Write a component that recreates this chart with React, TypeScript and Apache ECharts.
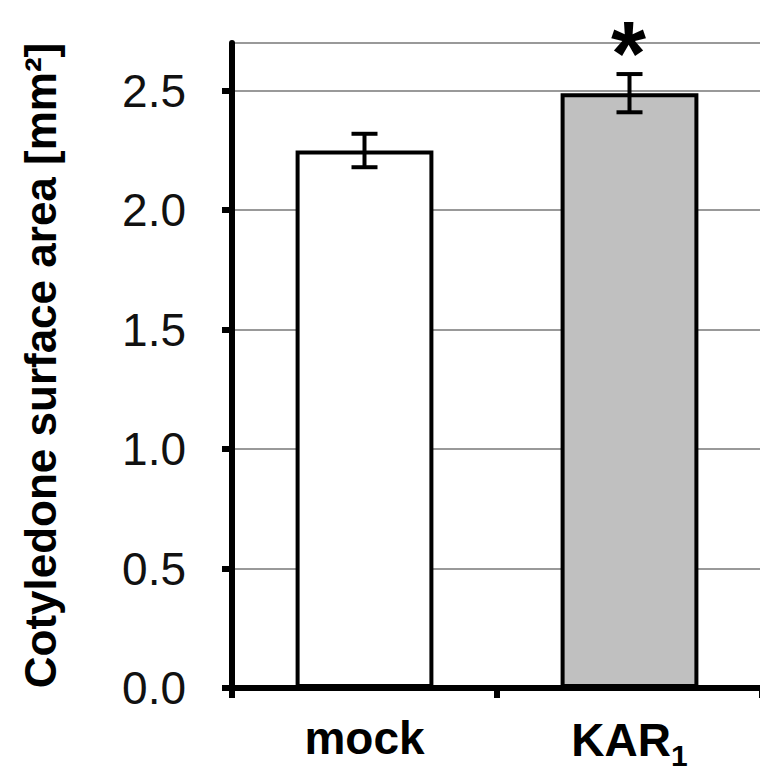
import React, { useEffect, useRef } from "react";
import * as echarts from "echarts";

const categories = ["mock", "KAR1"];
const means = [2.25, 2.49];
const errors = [0.07, 0.08];
const significance = ["", "*"];
const barColors = ["#ffffff", "#c0c0c0"];
const yTicks = [0, 0.5, 1.0, 1.5, 2.0, 2.5];
const yMax = 2.7;

export default function App() {
  const ref = useRef<HTMLDivElement>(null);
  useEffect(() => {
    if (!ref.current) return;
    const chart = echarts.init(ref.current, undefined, { renderer: "svg" });
    const font = "Liberation Sans, Arial, sans-serif";
    chart.setOption({
      animation: false,
      backgroundColor: "#ffffff",
      grid: {
        left: 232,
        right: 6,
        top: 43,
        bottom: 94,
        show: true,
        borderColor: "#999999",
        borderWidth: 2,
        backgroundColor: "transparent",
      },
      xAxis: {
        type: "category",
        data: categories,
        axisLine: { lineStyle: { color: "#000", width: 6 } },
        axisTick: { show: true, length: 10, lineStyle: { color: "#000", width: 6 } },
        axisLabel: {
          margin: 22,
          color: "#000",
          fontFamily: font,
          formatter: (v: string) => (v === "KAR1" ? "{a|KAR}{b|1}" : "{a|" + v + "}"),
          rich: {
            a: { fontSize: 46, fontWeight: "bold", fontFamily: font, color: "#000", lineHeight: 56 },
            b: { fontSize: 30, fontWeight: "bold", fontFamily: font, color: "#000", padding: [30, 0, 0, 0] },
          },
        },
      },
      yAxis: {
        type: "value",
        min: 0,
        max: yMax,
        interval: 0.5,
        name: "Cotyledone surface area [mm²]",
        nameLocation: "middle",
        nameGap: 170,
        nameRotate: 90,
        nameTextStyle: { fontSize: 44, fontWeight: "bold", fontFamily: font, color: "#000" },
        axisLine: { show: true, lineStyle: { color: "#000", width: 6 } },
        axisTick: {
          show: true,
          length: 10,
          customValues: yTicks,
          lineStyle: { color: "#000", width: 6 },
        },
        axisLabel: {
          customValues: yTicks,
          margin: 46,
          fontSize: 46,
          fontFamily: font,
          color: "#111",
          formatter: (v: number) => v.toFixed(1),
        },
        splitLine: { show: true, lineStyle: { color: "#999999", width: 2 } },
      },
      series: [
        {
          type: "bar",
          barWidth: "52%",
          data: means.map((m, i) => ({
            value: m,
            itemStyle: { color: barColors[i], borderColor: "#000", borderWidth: 4 },
          })),
          z: 2,
        },
        {
          type: "custom",
          z: 5,
          clip: false,
          data: means.map((m, i) => [i, m - errors[i], m + errors[i], significance[i]]),
          renderItem: (params: any, api: any) => {
            const idx = api.value(0);
            const lo = api.coord([idx, api.value(1)]);
            const hi = api.coord([idx, api.value(2)]);
            const half = 13;
            const style = { stroke: "#000", lineWidth: 4 };
            const children: any[] = [
              { type: "line", shape: { x1: lo[0], y1: lo[1], x2: hi[0], y2: hi[1] }, style },
              { type: "line", shape: { x1: lo[0] - half, y1: lo[1], x2: lo[0] + half, y2: lo[1] }, style },
              { type: "line", shape: { x1: hi[0] - half, y1: hi[1], x2: hi[0] + half, y2: hi[1] }, style },
            ];
            const sig = significance[params.dataIndex];
            if (sig) {
              children.push({
                type: "text",
                style: {
                  text: sig,
                  x: hi[0] - 1,
                  y: hi[1] - 20,
                  align: "center",
                  verticalAlign: "middle",
                  fontSize: 90,
                  fontWeight: "bold",
                  fontFamily: font,
                  fill: "#000",
                },
              });
            }
            return { type: "group", children };
          },
        },
      ],
    });
    return () => chart.dispose();
  }, []);
  return <div ref={ref} style={{ width: 768, height: 782, margin: -8 }} />;
}
